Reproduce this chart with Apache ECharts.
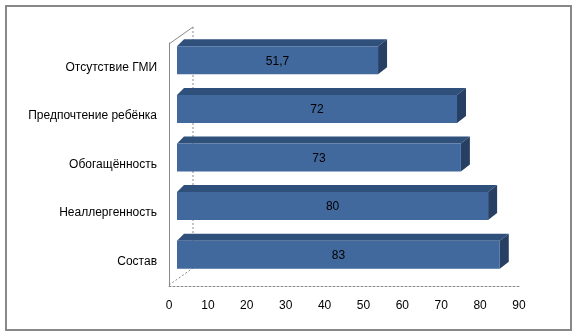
<!DOCTYPE html>
<html><head><meta charset="utf-8">
<script src="https://cdn.jsdelivr.net/npm/echarts@6/dist/echarts.min.js"></script>
<style>html,body{margin:0;padding:0;background:#fff}#c{width:576px;height:336px}</style>
</head><body><div id="c"></div>
<script>
const categories = ['Отсутствие ГМИ','Предпочтение ребёнка','Обогащённость','Неаллергенность','Состав'];
const values = [51.7, 72, 73, 80, 83];
const tickValues = [0,10,20,30,40,50,60,70,80,90];

const chart = echarts.init(document.getElementById('c'), null, {renderer:'canvas'});
const FONT = '"Liberation Sans", Arial, sans-serif';
const OFFX = 8, OFFY = -7, HALF = 14, DX = 9, DY = 7;

chart.setOption({
  animation:false,
  grid:{left:169, right:57, top:43, bottom:50},
  xAxis:{type:'value', min:0, max:90, interval:10,
    axisLine:{show:true, lineStyle:{color:'#8a8a8a', type:[2,2], width:1}},
    axisTick:{show:false}, splitLine:{show:false},
    axisLabel:{color:'#000', fontFamily:FONT, fontSize:12, margin:14,
      formatter:v=>tickValues.includes(v)?String(v):''}},
  yAxis:{type:'category', data:categories, inverse:true,
    axisLine:{show:true, lineStyle:{color:'#8a8a8a', width:1}},
    axisTick:{show:false},
    axisLabel:{color:'#000', fontFamily:FONT, fontSize:12, margin:12}},
  graphic:[
    {type:'rect', shape:{x:6,y:6,width:565,height:324}, style:{fill:'none', stroke:'#888', lineWidth:2}, z:0},
    {type:'line', shape:{x1:169,y1:44,x2:193,y2:27}, style:{stroke:'#8a8a8a', lineWidth:1}, z:1},
    {type:'line', shape:{x1:193,y1:27,x2:193,y2:268}, style:{stroke:'#8a8a8a', lineWidth:1, lineDash:[2,2]}, z:1},
    {type:'line', shape:{x1:169,y1:285,x2:193,y2:268}, style:{stroke:'#8a8a8a', lineWidth:1, lineDash:[2,2]}, z:1}
  ],
  series:[{
    type:'custom',
    data: values.map((v,i)=>[v,i]),
    z:5,
    renderItem:(params, api)=>{
      const v = api.value(0), i = api.value(1);
      const p0 = api.coord([0,i]), p1 = api.coord([v,i]);
      const x0 = p0[0]+OFFX, x1 = p1[0]+OFFX;
      const yc = p0[1]+OFFY, top = yc-HALF, bot = yc+HALF;
      return {type:'group', children:[
        {type:'polygon', shape:{points:[[x0,top],[x1,top],[x1+DX,top-DY],[x0+DX-2,top-DY]]}, style:{fill:'#30507C'}},
        {type:'polygon', shape:{points:[[x1,top],[x1+DX,top-DY],[x1+DX,bot-DY],[x1,bot]]}, style:{fill:'#273F62'}},
        {type:'rect', shape:{x:x0, y:top, width:x1-x0, height:bot-top}, style:{fill:'#41699D'}},
        {type:'text', style:{text:String(v).replace('.',','), x:(x0+x1)/2, y:yc+1, align:'center', verticalAlign:'middle', fill:'#000', font:'12px '+FONT}}
      ]};
    }
  }]
});
</script></body></html>
